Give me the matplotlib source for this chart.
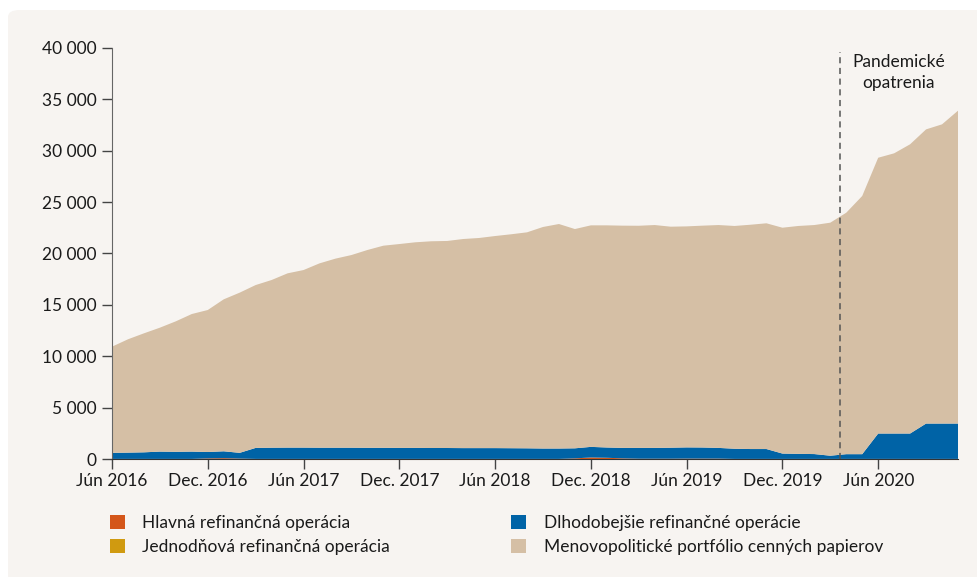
import matplotlib
matplotlib.use("Agg")
import matplotlib.pyplot as plt
from matplotlib.patches import FancyBboxPatch, Patch
from matplotlib.ticker import FuncFormatter

plt.rcParams["font.family"] = ["Lato", "DejaVu Sans"]

# monthly data, Jún 2016 .. Nov. 2020 (mil. EUR)
hlavna = [10, 10, 10, 10, 10, 10, 60, 80, 40,
          10, 10, 10, 10, 10, 10, 10, 10, 10, 10, 10,
          10, 10, 10, 10, 10, 10, 10, 10, 10,
          60, 150, 120, 60, 30, 30, 30, 40, 40, 40,
          10, 10, 10, 10, 10, 10, 10, 10, 10, 10, 10, 10, 10, 10, 10]
jednodnova = [0] * 54
dlhodobejsie = [590, 610, 640, 710, 690, 710, 620, 670, 560,
                1070, 1090, 1100, 1100, 1090, 1090, 1090, 1080, 1080, 1070, 1070,
                1060, 1060, 1050, 1050, 1050, 1040, 1030, 1010, 1010,
                980, 1030, 1000, 1020, 1050, 1050, 1070, 1090, 1080, 1040,
                990, 960, 960, 520, 490, 470, 310, 460, 460,
                2470, 2470, 2470, 3440, 3440, 3440]
portfolio = [10330, 11030, 11580, 12060, 12700, 13390, 13820, 14790, 15590,
             15850, 16320, 16960, 17280, 17940, 18400, 18750, 19250, 19670, 19840, 20010,
             20120, 20150, 20350, 20450, 20640, 20820, 21020, 21560, 21850,
             21340, 21560, 21620, 21630, 21620, 21690, 21510, 21510, 21590, 21690,
             21680, 21830, 21970, 21980, 22180, 22290, 22680, 23500, 25130,
             26840, 27270, 28150, 28630, 29120, 30450]

tick_labels = ["Jún 2016", "Dec. 2016", "Jún 2017", "Dec. 2017", "Jún 2018",
               "Dec. 2018", "Jún 2019", "Dec. 2019", "Jún 2020"]
series_names = ["Hlavná refinančná operácia", "Jednodňová refinančná operácia",
                "Dlhodobejšie refinančné operácie",
                "Menovopolitické portfólio cenných papierov"]
colors = ["#d4561a", "#d09a10", "#0063a6", "#d5bfa5"]
pandemic_x = 45.6

bg = "#f7f4f1"
text_c = "#1a1a1a"
fs = 12.5

fig = plt.figure(figsize=(9.78, 5.77), dpi=100, facecolor="white")
panel = FancyBboxPatch((8 / 978, -0.2), 1.2, 1.2 - 10 / 577,
                       boxstyle="round,pad=0,rounding_size=0.012",
                       transform=fig.transFigure, facecolor=bg, edgecolor="none",
                       zorder=-10)
fig.patches.append(panel)

ax = fig.add_axes([112 / 978, (577 - 459) / 577, 846 / 978, 411 / 577])
ax.set_facecolor(bg)
ax.patch.set_alpha(0)

x = list(range(len(portfolio)))
ax.stackplot(x, hlavna, jednodnova, dlhodobejsie, portfolio,
             colors=colors, linewidth=0)

ax.set_xlim(0, len(x) - 1)
ax.set_ylim(0, 40000)
ax.set_yticks(range(0, 40001, 5000))
ax.yaxis.set_major_formatter(FuncFormatter(lambda v, p: f"{v:,.0f}".replace(",", " ")))
ax.set_xticks(range(0, len(x), 6))
ax.set_xticklabels(tick_labels)

for s in ["top", "right"]:
    ax.spines[s].set_visible(False)
ax.spines["left"].set_color("#666666")
ax.spines["bottom"].set_color("#333333")
ax.tick_params(axis="both", length=7, width=1, color="#444444",
               labelsize=fs, labelcolor=text_c)
ax.tick_params(axis="y", pad=4)
ax.tick_params(axis="x", pad=3)

ax.axvline(pandemic_x, ymin=0, ymax=0.99, color="#555555", linestyle=(0, (4, 3)),
           linewidth=1.1)
ax.text(49.3, 37600, "Pandemické\nopatrenia", ha="center", va="center",
        fontsize=fs, color=text_c, linespacing=1.35)

handles = [Patch(facecolor=c, edgecolor="none") for c in colors]
fig.legend(handles, series_names, ncol=2, loc="upper left",
           bbox_to_anchor=(110 / 978, 1 - 515 / 577), frameon=False,
           fontsize=fs, handlelength=0.85, handleheight=0.85,
           handletextpad=1.0, columnspacing=7.0, labelspacing=0.45,
           labelcolor=text_c, borderaxespad=0, borderpad=0)

fig.savefig("out.png", dpi=100, facecolor="white")
